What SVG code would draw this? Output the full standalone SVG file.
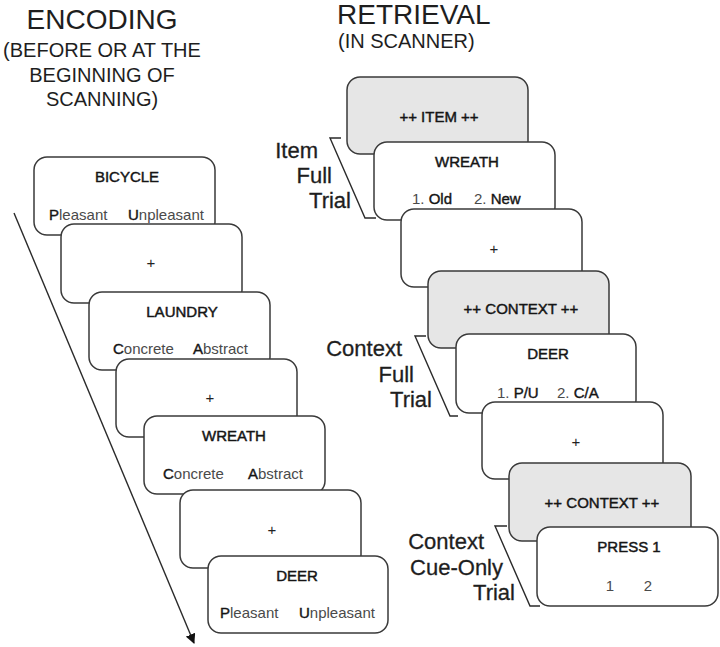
<svg xmlns="http://www.w3.org/2000/svg" width="720" height="647" viewBox="0 0 720 647">
<style>
text{font-family:"Liberation Sans",Arial,sans-serif;}
.title{font-size:28px;fill:#1e1e1e;}
.sub{font-size:20px;fill:#1e1e1e;}
.lab{font-size:22px;fill:#1e1e1e;stroke:#1e1e1e;stroke-width:0.3;}
.card{fill:#ffffff;stroke:#3a3a3a;stroke-width:1.5;}
.cue{fill:#e6e6e6;stroke:#3a3a3a;stroke-width:1.5;}
.w{font-size:15px;fill:#151515;text-anchor:middle;stroke:#151515;stroke-width:0.45;}
.o{font-size:15px;fill:#4a4a4a;}
.b{fill:#151515;stroke:#151515;stroke-width:0.4;}
.plus{font-size:15px;fill:#222;text-anchor:middle;}
.ln{fill:none;stroke:#2a2a2a;stroke-width:1.4;}
</style>
<defs>
<marker id="ah" viewBox="0 0 10 10" refX="9" refY="5" markerWidth="10" markerHeight="10" markerUnits="userSpaceOnUse" orient="auto">
<path d="M0,0 L10,5 L0,10 z" fill="#111"/>
</marker>
</defs>
<g id="titles">
<text class="title" x="102" y="29" text-anchor="middle">ENCODING</text>
<text class="sub" x="102" y="57" text-anchor="middle">(BEFORE OR AT THE</text>
<text class="sub" x="102" y="82" text-anchor="middle">BEGINNING OF</text>
<text class="sub" x="102" y="106" text-anchor="middle">SCANNING)</text>
<text class="title" x="337" y="24">RETRIEVAL</text>
<text class="sub" x="338" y="48">(IN SCANNER)</text>
</g>
<g id="connectors">
<line class="ln" x1="14" y1="213" x2="194" y2="643" marker-end="url(#ah)"/>
<polyline class="ln" points="341,138 330,138 365,218 376,218"/>
<polyline class="ln" points="426,336 415,336 450,416 458,416"/>
<polyline class="ln" points="507,526 495,526 530,606 540,606"/>
</g>
<g id="labels">
<text class="lab" text-anchor="end" x="318" y="158">Item</text>
<text class="lab" text-anchor="end" x="332" y="183">Full</text>
<text class="lab" text-anchor="end" x="351" y="208">Trial</text>
<text class="lab" text-anchor="end" x="402" y="356">Context</text>
<text class="lab" text-anchor="end" x="414" y="382">Full</text>
<text class="lab" text-anchor="end" x="432" y="407">Trial</text>
<text class="lab" text-anchor="end" x="484" y="549">Context</text>
<text class="lab" text-anchor="end" x="503" y="575">Cue-Only</text>
<text class="lab" text-anchor="end" x="515" y="600">Trial</text>
</g>
<g id="enc1"><rect class="card" x="34" y="157" width="181" height="78" rx="13"/>
<text class="w" x="127" y="182">BICYCLE</text>
<text class="o" x="49" y="220"><tspan class="b">P</tspan>leasant</text>
<text class="o" x="128" y="220"><tspan class="b">U</tspan>npleasant</text></g>
<g id="enc2"><rect class="card" x="61" y="224" width="181" height="79" rx="13"/>
<text class="plus" x="151" y="268">+</text></g>
<g id="enc3"><rect class="card" x="89" y="292" width="181" height="78" rx="13"/>
<text class="w" x="182" y="317">LAUNDRY</text>
<text class="o" x="113" y="354"><tspan class="b">C</tspan>oncrete</text>
<text class="o" x="193" y="354"><tspan class="b">A</tspan>bstract</text></g>
<g id="enc4"><rect class="card" x="116" y="359" width="181" height="78" rx="13"/>
<text class="plus" x="210" y="403">+</text></g>
<g id="enc5"><rect class="card" x="144" y="416" width="181" height="78" rx="13"/>
<text class="w" x="234" y="441">WREATH</text>
<text class="o" x="163" y="479"><tspan class="b">C</tspan>oncrete</text>
<text class="o" x="248" y="479"><tspan class="b">A</tspan>bstract</text></g>
<g id="enc6"><rect class="card" x="180" y="490" width="181" height="78" rx="13"/>
<text class="plus" x="272" y="535">+</text></g>
<g id="enc7"><rect class="card" x="208" y="556" width="180" height="77" rx="13"/>
<text class="w" x="297" y="581">DEER</text>
<text class="o" x="220" y="618"><tspan class="b">P</tspan>leasant</text>
<text class="o" x="299" y="618"><tspan class="b">U</tspan>npleasant</text></g>
<g id="ret1"><rect class="cue" x="347" y="77" width="181" height="77" rx="13"/>
<text class="w" x="439" y="122">++ ITEM ++</text></g>
<g id="ret2"><rect class="card" x="374" y="142" width="181" height="78" rx="13"/>
<text class="w" x="467" y="167">WREATH</text>
<text class="o" x="412" y="204">1. <tspan class="b">Old</tspan></text>
<text class="o" x="474" y="204">2. <tspan class="b">New</tspan></text></g>
<g id="ret3"><rect class="card" x="401" y="209" width="181" height="78" rx="13"/>
<text class="plus" x="494" y="254">+</text></g>
<g id="ret4"><rect class="cue" x="428" y="271" width="181" height="77" rx="13"/>
<text class="w" x="521" y="314">++ CONTEXT ++</text></g>
<g id="ret5"><rect class="card" x="456" y="334" width="180" height="79" rx="13"/>
<text class="w" x="548" y="359">DEER</text>
<text class="o" x="497" y="398">1. <tspan class="b">P/U</tspan></text>
<text class="o" x="557" y="398">2. <tspan class="b">C/A</tspan></text></g>
<g id="ret6"><rect class="card" x="482" y="402" width="181" height="77" rx="13"/>
<text class="plus" x="576" y="447">+</text></g>
<g id="ret7"><rect class="cue" x="509" y="463" width="182" height="78" rx="13"/>
<text class="w" x="602" y="508">++ CONTEXT ++</text></g>
<g id="ret8"><rect class="card" x="537" y="527" width="181" height="79" rx="13"/>
<text class="w" x="629" y="552">PRESS 1</text>
<text class="o" x="610" y="591" text-anchor="middle">1</text>
<text class="o" x="648" y="591" text-anchor="middle">2</text></g>
</svg>
